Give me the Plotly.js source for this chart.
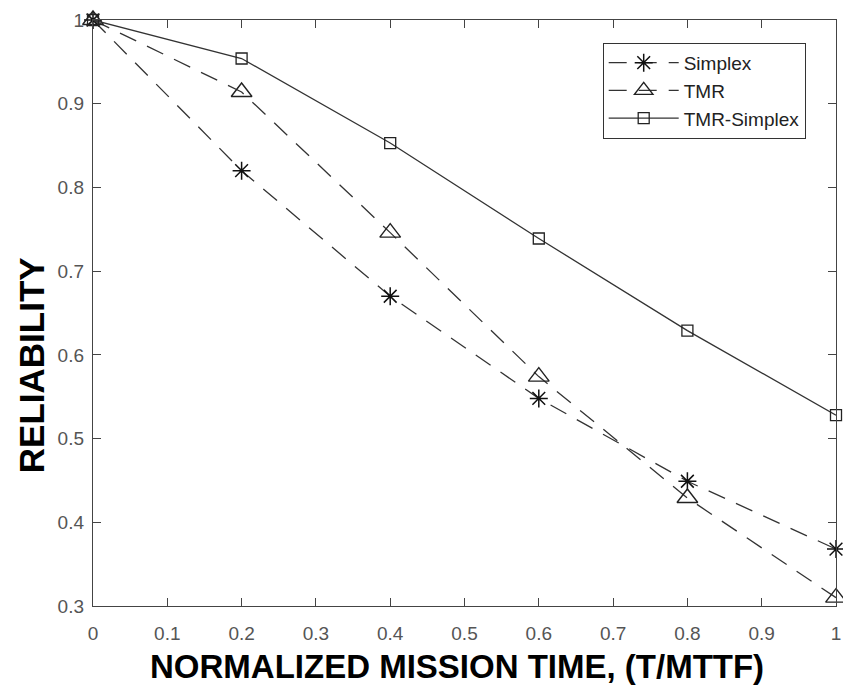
<!DOCTYPE html>
<html>
<head>
<meta charset="utf-8">
<script src="https://cdn.plot.ly/plotly-3.0.1.min.js"></script>
<style>html,body{margin:0;padding:0;background:#fff;}#chart{width:843px;height:686px;}</style>
</head>
<body>
<div id="chart"></div>
<script>
const missionTime = [0, 0.2, 0.4, 0.6, 0.8, 1.0];
const simplex = [1.0, 0.82, 0.67, 0.548, 0.449, 0.368];
const tmr = [1.0, 0.914, 0.746, 0.574, 0.429, 0.31];
const tmrSimplex = [1.0, 0.954, 0.853, 0.739, 0.629, 0.528];
const xTicks = [0, 0.1, 0.2, 0.3, 0.4, 0.5, 0.6, 0.7, 0.8, 0.9, 1];
const xTickLabels = ['0', '0.1', '0.2', '0.3', '0.4', '0.5', '0.6', '0.7', '0.8', '0.9', '1'];
const yTicks = [0.3, 0.4, 0.5, 0.6, 0.7, 0.8, 0.9, 1];
const yTickLabels = ['0.3', '0.4', '0.5', '0.6', '0.7', '0.8', '0.9', '1'];
const xTitle = 'NORMALIZED MISSION TIME, (T/MTTF)';
const yTitle = 'RELIABILITY';

const lineColor = '#333333';
const dashStyle = '18px,12px';
const traces = [
  {x: missionTime, y: simplex, name: 'Simplex', mode: 'lines+markers', cliponaxis: false,
   line: {color: lineColor, width: 1.3, dash: dashStyle},
   marker: {symbol: 'asterisk-open', size: 15, color: '#111', line: {color: '#111', width: 1.5}}},
  {x: missionTime, y: tmr, name: 'TMR', mode: 'lines+markers', cliponaxis: false,
   line: {color: lineColor, width: 1.3, dash: dashStyle},
   marker: {symbol: 'triangle-up-open', size: 18, color: '#222', line: {color: '#222', width: 1.4}}},
  {x: missionTime, y: tmrSimplex, name: 'TMR-Simplex', mode: 'lines+markers', cliponaxis: false,
   line: {color: lineColor, width: 1.3},
   marker: {symbol: 'square-open', size: 11, color: '#222', line: {color: '#222', width: 1.3}}}
];

const layout = {
  width: 843, height: 686,
  margin: {l: 93, r: 7, t: 20, b: 80},
  paper_bgcolor: '#fff', plot_bgcolor: '#fff',
  font: {family: 'Liberation Sans, Arial, sans-serif', color: '#444'},
  showlegend: true,
  legend: {x: 0.686, y: 0.961, xanchor: 'left', yanchor: 'top',
    bordercolor: '#333', borderwidth: 1, bgcolor: '#fff', itemwidth: 70,
    font: {size: 19, color: '#222'}, tracegroupgap: 0},
  xaxis: {range: [0, 1], tickvals: xTicks, ticktext: xTickLabels,
    ticks: 'inside', ticklen: 8, tickcolor: '#444', showgrid: false, zeroline: false,
    showline: true, mirror: 'ticks', linecolor: '#444', linewidth: 1.2,
    ticklabelstandoff: 10,
    tickfont: {size: 19, color: '#555'}},
  yaxis: {range: [0.3, 1], tickvals: yTicks, ticktext: yTickLabels,
    ticks: 'inside', ticklen: 8, tickcolor: '#444', showgrid: false, zeroline: false,
    showline: true, mirror: 'ticks', linecolor: '#444', linewidth: 1.2,
    ticklabelstandoff: 4,
    tickfont: {size: 19, color: '#555'}},
  annotations: [
    {text: '<b>' + xTitle + '</b>', xref: 'paper', yref: 'paper', x: 0.49, y: -0.1024,
     xanchor: 'center', yanchor: 'middle', showarrow: false, font: {size: 33, color: '#000'}},
    {text: '<b>' + yTitle + '</b>', xref: 'paper', yref: 'paper', x: -0.0834, y: 0.411,
     xanchor: 'center', yanchor: 'middle', showarrow: false, textangle: -90,
     font: {size: 35, color: '#000'}}
  ]
};

Plotly.newPlot('chart', traces, layout, {displayModeBar: false, staticPlot: true});
</script>
</body>
</html>
